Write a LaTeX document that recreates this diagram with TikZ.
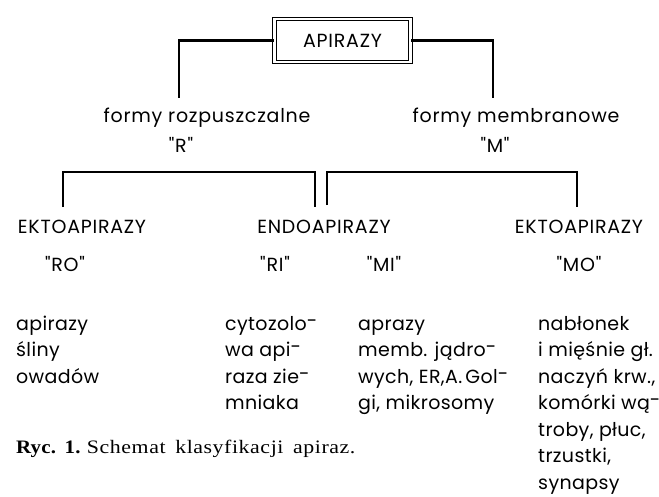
\documentclass[tikz,border=0pt]{standalone}
\usepackage{fontspec}
\setmainfont{Liberation Serif}
\newfontfamily\diagfont[LetterSpace=4]{Poppins}
\newfontfamily\colfont[LetterSpace=2]{Poppins}
\newfontfamily\capfont[FakeStretch=1.15,LetterSpace=3,WordSpace=1.6]{Liberation Serif}
\newfontfamily\capfontb[FakeStretch=1.1,LetterSpace=1,WordSpace=1.6]{Liberation Serif Bold}
\newcommand\hyp{\raisebox{0.14em}{-}}
\begin{document}
\begin{tikzpicture}[x=1pt,y=-1pt,
  lbl/.style={font=\diagfont\fontsize{19}{26.5}\selectfont, inner sep=0pt, anchor=base},
  col/.style={font=\colfont\fontsize{19}{26.5}\selectfont, inner sep=0pt, anchor=base west},
  conn/.style={line width=2.2pt, line cap=butt, line join=miter},
  topbox/.style={draw, double, line width=1.2pt, double distance=2.4pt,
    minimum width=136pt, minimum height=43pt, inner sep=0pt,
    font=\diagfont\fontsize{19}{23}\selectfont}
]
\useasboundingbox (0,0) rectangle (659,496);

% top box
\node[topbox] (top) at (342.5,40.5) {APIRAZY};

% second level
\node[lbl] (fr) at (207,122) {formy rozpuszczalne};
\node[lbl] (qr) at (181,152) {"R"};
\node[lbl] (fm) at (516,122) {formy membranowe};
\node[lbl] (qm) at (495,152) {"M"};

\coordinate (l1) at (179,98);
\coordinate (r1) at (493,98);
\draw[conn] (top.west) -| (l1);
\draw[conn] (top.east) -| (r1);

% brackets
\coordinate (la) at (63,207);
\coordinate (lat) at (63,172);
\coordinate (lbt) at (315,172);
\coordinate (lb) at (315,207);
\coordinate (ra) at (327,205);
\coordinate (rat) at (327,172);
\coordinate (rbt) at (577,172);
\coordinate (rb) at (577,207);
\draw[conn] (la) -- (lat) -- (lbt) -- (lb);
\draw[conn] (ra) -- (rat) -- (rbt) -- (rb);

% third level
\node[lbl] (ek1) at (82,233) {EKTOAPIRAZY};
\node[lbl] (endo) at (324,233) {ENDOAPIRAZY};
\node[lbl] (ek2) at (579,233) {EKTOAPIRAZY};
\node[lbl] (ro) at (65,271) {"RO"};
\node[lbl] (ri) at (275,271) {"RI"};
\node[lbl] (mi) at (384,271) {"MI"};
\node[lbl] (mo) at (579,271) {"MO"};

% columns
\node[col] (c1) at (16,330) {\begin{tabular}[t]{@{}l@{}}apirazy\\ śliny\\ owadów\end{tabular}};
\node[col] (c2) at (225,330) {\begin{tabular}[t]{@{}l@{}}cytozolo\hyp\\ wa api\hyp\\ raza zie\hyp\\ mniaka\end{tabular}};
\node[col] (c3) at (358,330) {\begin{tabular}[t]{@{}l@{}}aprazy\\ memb. jądro\hyp\\ wych, ER,A.\,Gol\hyp\\ gi, mikrosomy\end{tabular}};
\node[col] (c4) at (538,330) {\begin{tabular}[t]{@{}l@{}}nabłonek\\ i mięśnie gł.\\ naczyń krw.,\\ komórki wą\hyp\\ troby, płuc,\\ trzustki,\\ synapsy\end{tabular}};

% caption
\node[anchor=base west, inner sep=0pt, font=\fontsize{19}{22}\selectfont] (cap) at (16,453)
  {{\capfontb Ryc.~1.} {\capfont Schemat klasyfikacji apiraz.}};
\end{tikzpicture}
\end{document}
